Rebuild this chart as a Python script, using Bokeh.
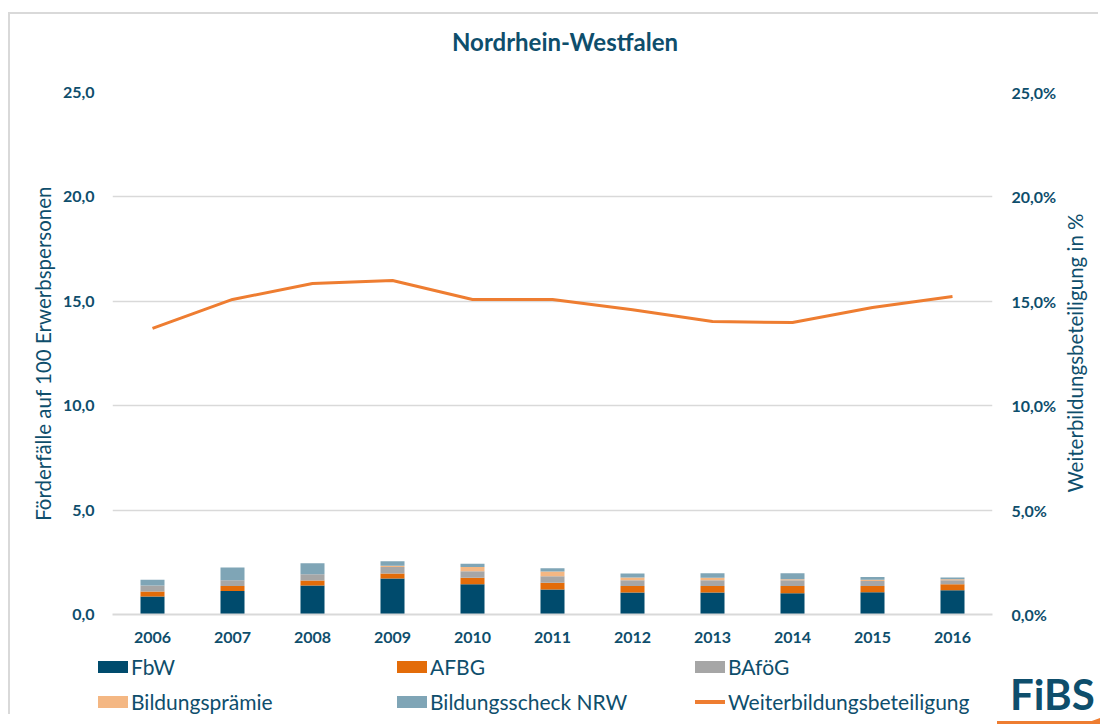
from bokeh.plotting import figure
from bokeh.models import (ColumnDataSource, FactorRange, Range1d, LinearAxis,
                          CustomJSTickFormatter, FixedTicker, Div)
from bokeh.embed import file_html
from bokeh.resources import INLINE

years = ["2006", "2007", "2008", "2009", "2010", "2011", "2012", "2013", "2014", "2015", "2016"]
fbw = [0.86, 1.13, 1.39, 1.72, 1.45, 1.20, 1.05, 1.05, 1.02, 1.07, 1.16]
afbg = [0.24, 0.23, 0.24, 0.24, 0.31, 0.32, 0.32, 0.32, 0.34, 0.29, 0.29]
bafoeg = [0.29, 0.28, 0.30, 0.32, 0.31, 0.31, 0.27, 0.27, 0.28, 0.25, 0.19]
praemie = [0.00, 0.00, 0.00, 0.05, 0.21, 0.23, 0.13, 0.12, 0.05, 0.05, 0.05]
scheck = [0.27, 0.61, 0.53, 0.22, 0.15, 0.16, 0.19, 0.22, 0.29, 0.13, 0.08]
beteiligung = [13.70, 15.09, 15.85, 16.00, 15.09, 15.09, 14.60, 14.03, 13.98, 14.70, 15.23]

series = ["FbW", "AFBG", "BAföG", "Bildungsprämie", "Bildungsscheck NRW"]
line_label = "Weiterbildungsbeteiligung"
chart_title = "Nordrhein-Westfalen"
left_title = "Förderfälle auf 100 Erwerbspersonen"
right_title = "Weiterbildungsbeteiligung in %"
colors = ["#004B6D", "#E36C09", "#A6A6A6", "#F4B783", "#7FA5B6"]
line_color = "#EE7D31"
text_color = "#0E4E6C"
grid_color = "#D9D9D9"
FONT = "Lato"

data = dict(year=years, pct=beteiligung)
for name, vals in zip(series, [fbw, afbg, bafoeg, praemie, scheck]):
    data[name] = vals
source = ColumnDataSource(data)

p = figure(width=1100, height=716, x_range=FactorRange(*years, range_padding=0),
           y_range=Range1d(0, 25), output_backend="svg", toolbar_location=None,
           min_border_left=112, min_border_right=108, min_border_top=92, min_border_bottom=102)
p.extra_y_ranges = {"pct": Range1d(0, 25)}
p.outline_line_color = None
p.background_fill_color = "white"
p.border_fill_color = "white"

renderers = p.vbar_stack(series, x="year", width=0.3, color=colors, source=source, line_width=0)
line_r = p.line(x="year", y="pct", source=source, y_range_name="pct", line_color=line_color, line_width=3)

ticks = [0, 5, 10, 15, 20, 25]
la = p.yaxis[0]
la.ticker = FixedTicker(ticks=ticks)
la.formatter = CustomJSTickFormatter(code="return tick.toFixed(1).replace('.', ',');")
la.axis_label = left_title
la.major_label_standoff = 12
la.axis_label_standoff = 5
ra = LinearAxis(y_range_name="pct", ticker=FixedTicker(ticks=ticks),
                formatter=CustomJSTickFormatter(code="return tick.toFixed(1).replace('.', ',') + '%';"))
ra.major_label_standoff = 13
p.add_layout(ra, "right")
for ax in (la, ra):
    ax.axis_line_color = None
    ax.major_tick_line_color = None
    ax.minor_tick_line_color = None
    ax.major_label_text_color = text_color
    ax.major_label_text_font = FONT
    ax.major_label_text_font_size = "16px"
    ax.major_label_text_font_style = "bold"
    ax.axis_label_text_color = text_color
    ax.axis_label_text_font = FONT
    ax.axis_label_text_font_size = "20.5px"
    ax.axis_label_text_font_style = "normal"

xa = p.xaxis[0]
xa.axis_line_color = grid_color
xa.axis_line_width = 2
xa.major_tick_line_color = None
xa.minor_tick_line_color = None
xa.major_label_text_color = text_color
xa.major_label_text_font = FONT
xa.major_label_text_font_size = "16px"
xa.major_label_text_font_style = "bold"
xa.major_label_standoff = 11

p.xgrid.grid_line_color = None
p.ygrid.ticker = FixedTicker(ticks=[5, 10, 15, 20, 25])
p.ygrid.grid_line_color = grid_color
p.ygrid.grid_line_width = 1.5

# overlay: chart border, title, right axis title, legend (3 columns x 2 rows) and logo
OX, OY = 10, 14  # overlay content origin in page pixels
col_left = [98, 397, 695]
row_center = [667, 701.5]
legend_entries = [(s, c, "box") for s, c in zip(series, colors)] + [(line_label, line_color, "line")]
parts = []
# chart title
parts.append(f'<div style="position:absolute;left:{565 - OX}px;top:{42 - OY}px;white-space:nowrap;'
             f'transform:translate(-50%,-50%);font-family:Lato;font-weight:bold;font-size:24px;'
             f'line-height:28px;color:{text_color};">{chart_title}</div>')
for i, (lab, col, kind) in enumerate(legend_entries):
    cx = col_left[i % 3] - OX
    cy = row_center[i // 3] - OY
    if kind == "box":
        parts.append(f'<div style="position:absolute;left:{cx}px;top:{cy - 6}px;width:30px;height:12px;'
                     f'background:{col};"></div>')
    else:
        parts.append(f'<div style="position:absolute;left:{cx}px;top:{cy - 1.5}px;width:30px;height:3.5px;'
                     f'background:{col};"></div>')
    parts.append(f'<div style="position:absolute;left:{cx + 33}px;top:{cy - 13}px;height:26px;'
                 f'line-height:26px;white-space:nowrap;font-family:Lato;font-size:21px;'
                 f'color:{text_color};">{lab}</div>')
# right axis title, read bottom to top
parts.append(f'<div style="position:absolute;left:{1075 - OX}px;top:{353 - OY}px;white-space:nowrap;'
             f'transform:translate(-50%,-50%) rotate(-90deg);font-family:Lato;font-size:20.5px;'
             f'line-height:24px;color:{text_color};">{right_title}</div>')
# logo
parts.append(
    f'<div style="position:absolute;left:{997 - OX}px;top:{673 - OY}px;width:103px;height:51px;">'
    f'<div style="font-family:Lato;font-weight:bold;font-size:42px;line-height:42px;'
    f'color:{text_color};padding-left:13px;">FiBS</div>'
    f'<div style="margin-top:3px;height:8px;background:{line_color};'
    'clip-path:polygon(0% 37%, 92% 37%, 100% 0%, 100% 100%, 0% 100%);"></div>'
    '</div>'
)
overlay = Div(text="".join(parts), width=1090, height=702, margin=0,
              styles={"position": "absolute", "left": "8px", "top": "12px",
                      "border-left": "2px solid #D9D9D9", "border-top": "2px solid #D9D9D9",
                      "z-index": "10", "pointer-events": "none", "overflow": "visible"})

open("out.html", "w").write(file_html([p, overlay], INLINE))
